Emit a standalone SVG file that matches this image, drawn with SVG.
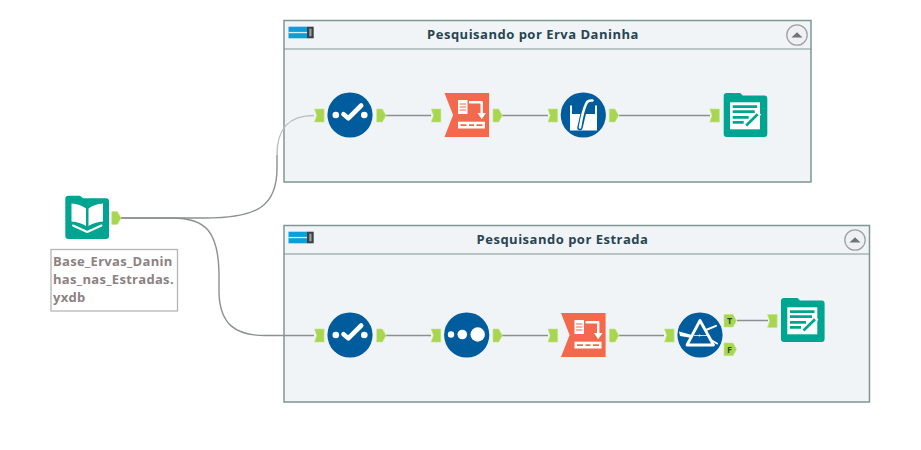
<svg xmlns="http://www.w3.org/2000/svg" xmlns:xlink="http://www.w3.org/1999/xlink" width="921" height="450" viewBox="0 0 921 450">
<style>
.box{fill:#f0f4f6;stroke:#7f9693;stroke-width:1.5}
.rule{stroke:#7f9693;stroke-width:1.2}
.title{font-family:"Open Sans","Noto Sans",sans-serif;font-weight:700;font-size:13px;letter-spacing:.5px;fill:#274452;text-anchor:middle}
.wire{fill:none;stroke:#8b9090;stroke-width:1.4}
.pale{fill:none;stroke:#b9bdbb;stroke-width:1.4}
.anchor{fill:#a9d651;stroke:#c4e48a;stroke-width:.6}
.blue{fill:#005c9c}
.red{fill:#f4694d}
.teal{fill:#00a592}
.w{fill:#fff}
.ws{fill:none;stroke:#fff;stroke-linecap:round;stroke-linejoin:round}
.lab{font-family:"Open Sans","Noto Sans",sans-serif;font-weight:700;font-size:13px;letter-spacing:.3px;fill:#8b8282}
.tf{font-family:"Open Sans","Noto Sans",sans-serif;font-weight:700;font-size:9px;fill:#2c4a3a;text-anchor:middle}
</style>
<defs>
<path id="in" class="anchor" d="M0 0H9.6V13H0L2.2 6.500Z"/>
<path id="out" class="anchor" d="M0 0H5.600L9.400 6.500L5.600 13H0Z"/>
<g id="hdr">
<rect x="0" y="0" width="18.500" height="11.600" fill="#0a9fd8"/>
<rect x="18.500" y="0" width="6.700" height="11.600" fill="#3c4146"/>
<rect x="20.800" y="2" width="2.200" height="7.600" fill="#9aa0a3"/>
<rect x="0" y="5.200" width="18.500" height="1.300" fill="#d6eef8"/>
</g>
<g id="btn">
<circle r="10.200" fill="#eef0f1" stroke="#9ea3a6" stroke-width="1.300"/>
<path d="M-5.500 2.500L0 -2.800L5.500 2.500Z" fill="#6e7478"/>
</g>
<g id="check">
<circle r="22.600" class="blue"/>
<circle cx="-14.200" r="3.300" class="w"/>
<circle cx="14.300" r="3.300" class="w"/>
<path class="ws" stroke-width="4.600" d="M-6.500 -.7L-1.700 3.300L11.200 -9.500"/>
</g>
<g id="sortt">
<path class="red" d="M0 0H44.600V44H0L8.600 22Z"/>
<g transform="translate(22.500 22)">
<rect x="-9" y="-15" width="9.500" height="14" class="w"/>
<path stroke="#f4694d" stroke-width="1" d="M-7.500 -11H-1M-7.500 -8H-1M-7.500 -5H-1"/>
<path class="ws" stroke-width="2.400" stroke-linecap="butt" d="M3 -12.700H14.700V-2"/>
<path class="w" d="M10.500 -2H18.900L14.700 4.300Z"/>
<rect x="-9" y="6.700" width="27" height="6.800" class="w"/>
<path stroke="#f4694d" stroke-width="1.600" d="M-6.500 10.100H-.5M2 10.100H7M9.500 10.100H15.500"/>
</g>
</g>
<g id="folder">
<path class="teal" d="M3 0H16.500L19 2.600H40.600Q43.600 2.600 43.600 5.600V41Q43.600 44 40.600 44H3Q0 44 0 41V3Q0 0 3 0Z"/>
<rect x="6.300" y="9.300" width="30" height="27" class="w"/>
<path stroke="#00a592" stroke-width="2.800" fill="none" d="M9 13.700H33.500M9 18.700H31M9 24.300H25M9 29.300H20"/>
<path d="M21.500 33.500L35.500 19.700" stroke="#fff" stroke-width="5.500"/>
<path d="M22.500 32.500L34 21.200" stroke="#00a592" stroke-width="2.600"/>
</g>
</defs>
<rect width="921" height="450" fill="#fff"/>

<g id="container-erva">
<rect class="box" x="284" y="20.500" width="527" height="161.500"/>
<path class="rule" d="M284 49H811"/>
<use xlink:href="#hdr" href="#hdr" x="288.500" y="26.700"/>
<text class="title" x="533" y="39">Pesquisando por Erva Daninha</text>
<use xlink:href="#btn" href="#btn" x="797" y="35"/>
</g>
<g id="container-estrada">
<rect class="box" x="284" y="225.500" width="585.500" height="176.500"/>
<path class="rule" d="M284 254H869.500"/>
<use xlink:href="#hdr" href="#hdr" x="288.500" y="231.700"/>
<text class="title" x="562.500" y="244">Pesquisando por Estrada</text>
<use xlink:href="#btn" href="#btn" x="855" y="240"/>
</g>

<g id="connectors">
<path class="wire" d="M121 218H205C258 218 277 206 277 168V155"/>
<path class="pale" d="M277 155C277 128 289 115.500 314 115.500"/>
<path class="wire" d="M121 218H172C206 218 218 232 219 272V293C220 324 235 335.500 265 335.500H314"/>
<path class="wire" d="M386 115.500H431M502 115.500H548M619 115.500H710"/>
<path class="wire" d="M386 335.500H431M502 335.500H548M619 335.500H664M737 320.500H768"/>
</g>

<g id="node-input">
<path class="teal" d="M68.300 195.700H80L83 198.300H106Q109 198.300 109 201.300V236Q109 239 106 239H68.300Q65.300 239 65.300 236V198.700Q65.300 195.700 68.300 195.700Z"/>
<path class="w" d="M71.500 203.500Q80 204 86 208.500V226Q80 222 71.500 221.500ZM103 203.500Q94.500 204 88.500 208.500V226Q94.500 222 103 221.500Z"/>
<path class="ws" stroke-width="2" d="M73 225.500L87.200 232L101.500 225.500"/>
<use xlink:href="#out" href="#out" x="111.700" y="211.500"/>
</g>
<g id="node-input-label">
<rect x="51" y="249.500" width="126.500" height="61.500" fill="#fff" stroke="#b5b5b5" stroke-width="1.300"/>
<text class="lab" x="53" y="266">Base_Ervas_Danin</text>
<text class="lab" x="53" y="284">has_nas_Estradas.</text>
<text class="lab" x="53" y="302">yxdb</text>
</g>

<g id="node-select-1">
<use xlink:href="#in" href="#in" x="314.500" y="109"/>
<use xlink:href="#check" href="#check" x="350" y="115"/>
<use xlink:href="#out" href="#out" x="376.700" y="109"/>
</g>
<g id="node-sort-1">
<use xlink:href="#in" href="#in" x="431.300" y="109"/>
<use xlink:href="#sortt" href="#sortt" x="444.500" y="93"/>
<use xlink:href="#out" href="#out" x="493" y="109"/>
</g>
<g id="node-formula">
<use xlink:href="#in" href="#in" x="548" y="109"/>
<circle cx="583.300" cy="115" r="22.600" class="blue"/>
<path class="w" d="M570 105.500H572V114H595V105.500H597V130.500H570Z"/>
<rect x="572" y="114" width="23" height="16" class="w"/>
<path fill="none" stroke="#005c9c" stroke-width="5.500" stroke-linecap="round" d="M580 127.500L584.500 108"/>
<path class="ws" stroke-width="2.600" d="M580 127.500C581.500 118 584 108 586.500 103Q588 100 592.500 100.500"/>
<use xlink:href="#out" href="#out" x="609.300" y="109"/>
</g>
<g id="node-output-1">
<use xlink:href="#in" href="#in" x="709.800" y="109"/>
<use xlink:href="#folder" href="#folder" x="723.700" y="93"/>
</g>

<g id="node-select-2">
<use xlink:href="#in" href="#in" x="314.500" y="329"/>
<use xlink:href="#check" href="#check" x="350" y="335"/>
<use xlink:href="#out" href="#out" x="376.700" y="329"/>
</g>
<g id="node-unique">
<use xlink:href="#in" href="#in" x="431.200" y="329"/>
<circle cx="466.700" cy="335" r="22.600" class="blue"/>
<circle cx="451" cy="334.500" r="3.200" class="w"/>
<circle cx="462.300" cy="334.500" r="4.800" class="w"/>
<circle cx="477.700" cy="334.500" r="7.200" class="w"/>
<use xlink:href="#out" href="#out" x="493" y="329"/>
</g>
<g id="node-sort-2">
<use xlink:href="#in" href="#in" x="548" y="329"/>
<use xlink:href="#sortt" href="#sortt" x="561" y="313"/>
<use xlink:href="#out" href="#out" x="609.500" y="329"/>
</g>
<g id="node-filter">
<use xlink:href="#in" href="#in" x="664.500" y="329"/>
<circle cx="700" cy="335" r="22.600" class="blue"/>
<path class="ws" stroke-width="2.800" stroke-linejoin="miter" d="M700 320.500L687 345H713.500Z"/>
<path class="ws" stroke-width="2" d="M706 330L716 325.800M711 340L717 343.500"/>
<path fill="#fff" d="M679 331.500L692 335V338L680 336Z"/>
<path d="M694 335.500H707" stroke="#fff" stroke-width=".8"/>
<circle cx="699.500" cy="335.500" r="1" fill="#fff"/>
<path class="anchor" d="M724 314.500H733L736.500 320.700L733 327H724Z"/>
<text class="tf" x="729.500" y="324">T</text>
<path class="anchor" d="M724 343H733L736.500 349.300L733 355.700H724Z"/>
<text class="tf" x="729.500" y="352.500">F</text>
</g>
<g id="node-output-2">
<use xlink:href="#in" href="#in" x="767.500" y="314.500"/>
<use xlink:href="#folder" href="#folder" x="781" y="298"/>
</g>
</svg>
